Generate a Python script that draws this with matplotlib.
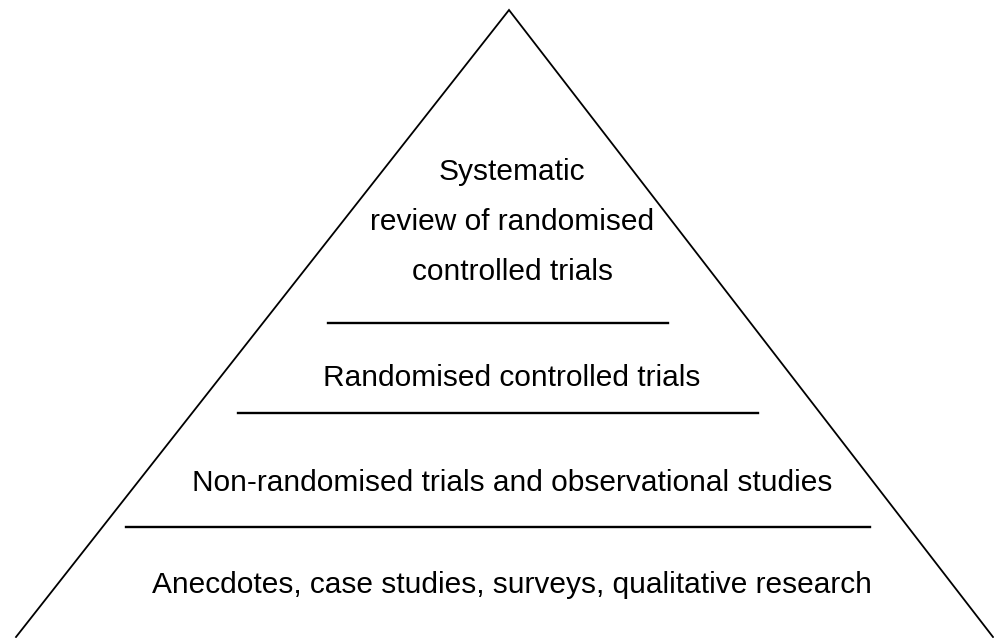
"""Hierarchy of evidence pyramid: triangle with tier labels and divider rules."""

import matplotlib

matplotlib.use("Agg")
import matplotlib.pyplot as plt

# tiers, top to bottom
TIER_LABELS = [
    "Systematic\nreview of randomised\ncontrolled trials",
    "Randomised controlled trials",
    "Non-randomised trials and observational studies",
    "Anecdotes, case studies, surveys, qualitative research",
]

# layout (pixel coords, y down)
W, H = 994, 638
APEX = (509, 10)
BASE_LEFT = (16, 637)
BASE_RIGHT = (993, 637)
LABEL_Y = [222, 378, 483, 585]
DIVIDERS = [(323, 328, 668), (413, 238, 758), (527, 126, 870)]
FONT = "Liberation Sans"
FONT_SIZE = 21.5
LW = 1.3


def main():
    fig = plt.figure(figsize=(W / 100, H / 100), dpi=100)
    ax = fig.add_axes([0, 0, 1, 1])
    ax.set_xlim(0, W)
    ax.set_ylim(H, 0)
    ax.axis("off")

    ax.plot([BASE_LEFT[0], APEX[0], BASE_RIGHT[0]],
            [BASE_LEFT[1], APEX[1], BASE_RIGHT[1]],
            color="black", lw=LW, solid_joinstyle="miter")

    for y, x0, x1 in DIVIDERS:
        ax.plot([x0, x1], [y, y], color="black", lw=LW + 0.4)

    for label, y in zip(TIER_LABELS, LABEL_Y):
        ax.text(512, y, label, ha="center", va="center", family=FONT,
                fontsize=FONT_SIZE, linespacing=2.0, color="black")

    fig.savefig("out.png", dpi=100)


if __name__ == "__main__":
    main()
